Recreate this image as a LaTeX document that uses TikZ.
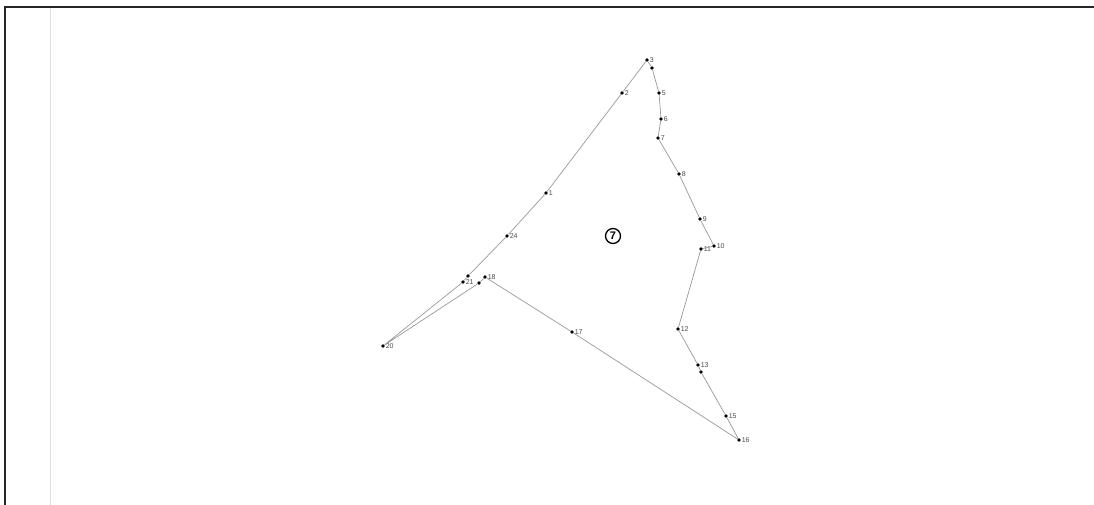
\documentclass[tikz,border=0pt]{standalone}
\usepackage{fontspec}
\setmainfont{Liberation Sans}
\begin{document}
\begin{tikzpicture}[x=1pt,y=-1pt,
  pt/.style={circle,fill=black,inner sep=0pt,minimum size=3.8pt},
  lbl/.style={font=\fontsize{7}{8}\selectfont,text=black!70,inner sep=0.5pt,anchor=west},
  edge/.style={draw=black!40,line width=0.7pt}]
\useasboundingbox (0,0) rectangle (1094,505);
\fill[white] (0,0) rectangle (1094,505);
\draw[black!12,line width=1pt] (50,8) -- (50,505);
\draw[black!85,line width=1.3pt] (5,505) -- (5,7) -- (1094,7);
% points
\node[pt] (p3) at (647,60) {};
\node[pt] (p4) at (652,68) {};
\node[pt] (p2) at (622,93) {};
\node[pt] (p5) at (659,93) {};
\node[pt] (p6) at (661,119) {};
\node[pt] (p7) at (658,138) {};
\node[pt] (p8) at (679,174) {};
\node[pt] (p9) at (700,219) {};
\node[pt] (p10) at (714,246) {};
\node[pt] (p11) at (701,249) {};
\node[pt] (p12) at (678,329) {};
\node[pt] (p13) at (698,365) {};
\node[pt] (p14) at (701,372) {};
\node[pt] (p15) at (726,416) {};
\node[pt] (p16) at (739,440) {};
\node[pt] (p17) at (572,332) {};
\node[pt] (p18) at (485,277) {};
\node[pt] (p19) at (479,283) {};
\node[pt] (p21) at (463,282) {};
\node[pt] (p22) at (468,276) {};
\node[pt] (p20) at (383,346) {};
\node[pt] (p24) at (507,236) {};
\node[pt] (p1) at (546,193) {};
% labels
\node[lbl] at (p3.east) {3};
\node[lbl] at (p2.east) {2};
\node[lbl] at (p5.east) {5};
\node[lbl] at (p6.east) {6};
\node[lbl] at (p7.east) {7};
\node[lbl] at (p8.east) {8};
\node[lbl] at (p9.east) {9};
\node[lbl] at (p10.east) {10};
\node[lbl] at (p11.east) {11};
\node[lbl] at (p12.east) {12};
\node[lbl] at (p13.east) {13};
\node[lbl] at (p15.east) {15};
\node[lbl] at (p16.east) {16};
\node[lbl] at (p17.east) {17};
\node[lbl] at (p18.east) {18};
\node[lbl] at (p21.east) {21};
\node[lbl] at (p20.east) {20};
\node[lbl] at (p24.east) {24};
\node[lbl] at (p1.east) {1};
% edges
\draw[edge] (p3) -- (p2) -- (p1) -- (p24) -- (p22) -- (p21) -- (p20) -- (p19) -- (p18) -- (p17) -- (p16) -- (p15) -- (p14) -- (p13) -- (p12) -- (p11) -- (p10) -- (p9) -- (p8) -- (p7) -- (p6) -- (p5) -- (p4) -- (p3);
% region mark
\node[circle,draw=black,line width=1.3pt,inner sep=0pt,minimum size=15pt,font=\fontsize{11}{12}\selectfont\bfseries] (r7) at (613,236) {7};
\end{tikzpicture}
\end{document}
